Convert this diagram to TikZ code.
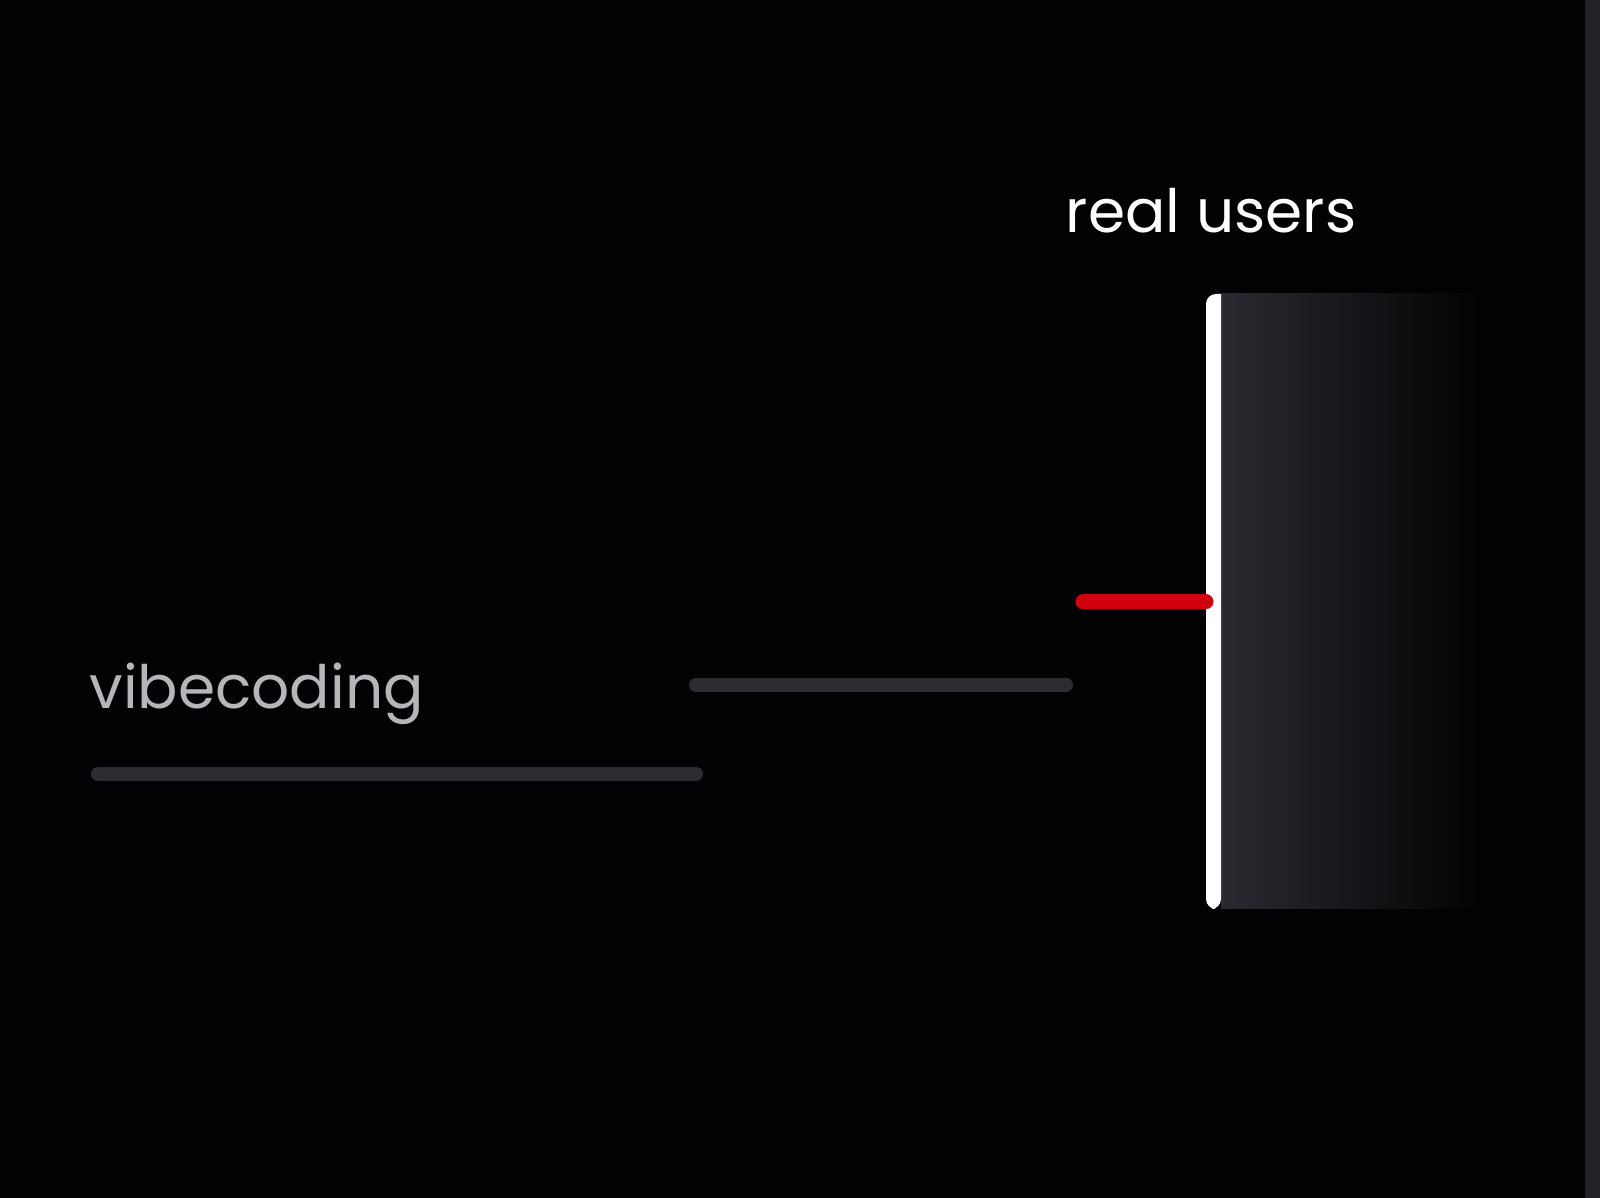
\documentclass[tikz,border=0pt]{standalone}
\usepackage{fontspec}
\setmainfont{Poppins}
\usetikzlibrary{calc}
\definecolor{bgdark}{HTML}{020204}
\definecolor{edgegray}{HTML}{222125}
\definecolor{bargray}{HTML}{2C2C33}
\definecolor{panelgray}{HTML}{2A2B30}
\definecolor{alarmred}{HTML}{D0000C}
\definecolor{softtext}{HTML}{B5B5BA}

\begin{document}
\begin{tikzpicture}[x=0.01cm,y=-0.01cm,
    bar/.style={line width=0.14cm,line cap=round,bargray},
    label/.style={inner sep=0,font=\fontsize{17}{20}\selectfont}]
  % Hintergrund
  \fill[bgdark] (0,0) rectangle (1600,1198);
  \fill[edgegray] (1585,0) rectangle (1600,1198);
  \useasboundingbox (0,0) rectangle (1600,1198);
  % Panel mit Verlauf
  \shade[left color=panelgray,right color=bgdark] (1221,294) rectangle (1480,909);
  \fill[white,rounded corners=0.1cm] (1221,294) -- (1206,294) -- (1206,909) -- (1221,909) [sharp corners] -- cycle;
  % Balken
  \coordinate (v0) at (98,774);
  \coordinate (v1) at (696,774);
  \coordinate (m1) at (1066,685);
  \coordinate (r0) at (1083,602);
  \coordinate (r1) at (1206,602);
  \draw[bar] (v0)--(v1);
  \draw[bar] (v1|-m1)--(m1);
  \draw[line width=0.15cm,line cap=round,alarmred] (r0)--(r1);
  \draw[line width=0.15cm,alarmred] ($(r1)+(-5,0)$)--(r1);
  % Beschriftung
  \node[label,white,anchor=base] (users) at (1211,233) {real users};
  \node[label,softtext,anchor=base west] (vibe) at (89,709) {vibecoding};
\end{tikzpicture}
\end{document}
